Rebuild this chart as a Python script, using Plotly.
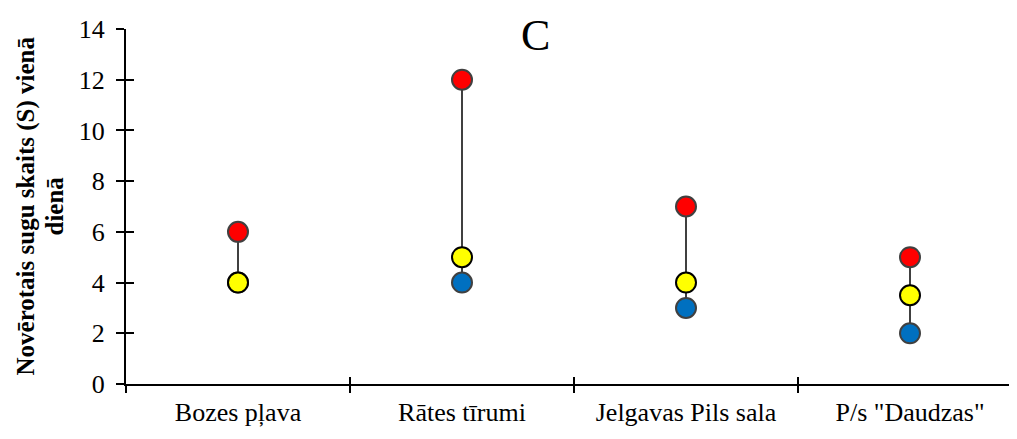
import plotly.graph_objects as go

categories = ["Bozes pļava", "Rātes tīrumi", "Jelgavas Pils sala", 'P/s "Daudzas"']
max_vals = [6, 12, 7, 5]
mean_vals = [4, 5, 4, 3.5]
min_vals = [4, 4, 3, 2]
y_ticks = [0, 2, 4, 6, 8, 10, 12, 14]
y_title_lines = ["Novērotais sugu skaits (S) vienā", "dienā"]
panel_label = "C"

FONT = "Liberation Serif"
FS = 26

fig = go.Figure()

# connecting lines min -> max
lx, ly = [], []
for c, lo, hi in zip(categories, min_vals, max_vals):
    lx += [c, c, None]
    ly += [lo, hi, None]
fig.add_trace(go.Scatter(x=lx, y=ly, mode="lines", line=dict(color="#404040", width=2),
                         hoverinfo="skip", showlegend=False))

fig.add_trace(go.Scatter(x=categories, y=min_vals, mode="markers", name="min",
                         marker=dict(size=20, color="#0070C0", line=dict(color="#404040", width=2)),
                         showlegend=False))
fig.add_trace(go.Scatter(x=categories, y=max_vals, mode="markers", name="max",
                         marker=dict(size=20, color="#FF0000", line=dict(color="#404040", width=2)),
                         showlegend=False))
fig.add_trace(go.Scatter(x=categories, y=mean_vals, mode="markers", name="mean",
                         marker=dict(size=20, color="#FFFF00", line=dict(color="#000000", width=2)),
                         showlegend=False))

# invisible trace for overlay axes (inside half of crossing ticks)
fig.add_trace(go.Scatter(x=categories, y=min_vals, xaxis="x2", yaxis="y2", mode="markers",
                         marker=dict(opacity=0), hoverinfo="skip", showlegend=False))

xrange = [-0.5, 3.5]
annotations = [dict(text="<b>" + t + "</b>",
                    textangle=-90, xref="paper", yref="paper",
                    x=(px - 118) / 896, y=0.5, xanchor="center", yanchor="middle",
                    showarrow=False, font=dict(size=25, family=FONT, color="black"))
               for t, px in zip(y_title_lines, [17, 46])]
annotations.append(dict(text=panel_label, xref="paper", yref="paper",
                        x=(527 - 118) / 896, y=1 + 20 / 355, xanchor="center", yanchor="top",
                        showarrow=False, font=dict(size=44, family=FONT, color="black")))

fig.update_layout(
    width=1017, height=439,
    margin=dict(l=118, r=3, t=21, b=63),
    paper_bgcolor="white", plot_bgcolor="white",
    font=dict(family=FONT, color="black", size=FS),
    xaxis=dict(type="category", categoryorder="array", categoryarray=categories,
               range=xrange, tickson="boundaries", ticks="outside", ticklen=7, tickwidth=2,
               tickcolor="black", showline=True, linecolor="black", linewidth=2,
               showgrid=False, zeroline=False, automargin=False, ticklabelstandoff=4,
               tickfont=dict(size=FS, family=FONT, color="black")),
    xaxis2=dict(type="category", categoryorder="array", categoryarray=categories,
                overlaying="x", anchor="y", range=xrange, tickson="boundaries",
                ticks="inside", ticklen=7, tickwidth=2, tickcolor="black", automargin=False,
                showticklabels=False, showline=False, showgrid=False, zeroline=False),
    yaxis=dict(range=[0, 14], tickvals=y_ticks, ticks="outside", ticklen=8, tickwidth=2,
               tickcolor="black", showline=True, linecolor="black", linewidth=2,
               showgrid=False, zeroline=False, automargin=False, ticklabelstandoff=6,
               tickfont=dict(size=FS, family=FONT, color="black")),
    yaxis2=dict(range=[0, 14], tickvals=y_ticks, overlaying="y", anchor="x", side="left",
                ticks="inside", ticklen=8, tickwidth=2, tickcolor="black", automargin=False,
                showticklabels=False, showline=False, showgrid=False, zeroline=False),
    annotations=annotations,
)

fig.write_html("out.html")
